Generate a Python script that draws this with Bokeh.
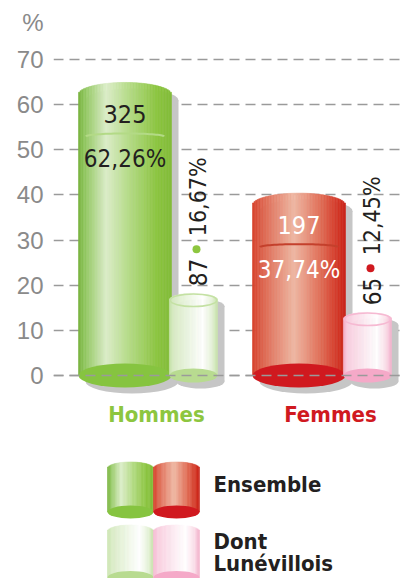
import numpy as np
from bokeh.plotting import figure
from bokeh.models import Range1d, FixedTicker, Span
from bokeh.core.properties import value
from bokeh.embed import file_html
from bokeh.resources import INLINE

# ---------------- data ----------------
categories = ["Hommes", "Femmes"]
ensemble_n = [325, 197]
ensemble_pct = [62.26, 37.74]
lune_n = [87, 65]
lune_pct = [16.67, 12.45]
y_ticks = [0, 10, 20, 30, 40, 50, 60, 70]
y_unit_label = "%"
legend_items = ["Ensemble", "Dont\nLunévillois"]


def fr(v):
    return f"{v:.2f}".replace(".", ",") + "%"


# ---------------- layout / style ----------------
W, H = 409, 578
LEFT = 53
RIGHT = 9
PX_X = 174.0          # px per category unit
PPU = 4.514           # px per percent
Y0_PX = 375           # px of y = 0
FW = W - LEFT - RIGHT
x_start = -(124.5 - LEFT) / PX_X
x_end = x_start + FW / PX_X
y_end = Y0_PX / PPU
y_start = -(H - Y0_PX) / PPU


def px_x(px):
    return px / PX_X


def px_y(px):
    return px / PPU


def X(ref_px):
    return x_start + (ref_px - LEFT) / PX_X


def Y(ref_py):
    return (Y0_PX - ref_py) / PPU


NARROW = "DejaVu Sans Condensed"
GRID = "#9a9a9a"
SHADOW = "#c6c6c6"
DARK = "#231f20"
GREEN = "#8dc63f"
RED = "#d0191f"

big_w = px_x(93)
small_w = px_x(48)
small_off = px_x(68.5)
big_ry = px_y(12)
small_ry = px_y(7)

big_stops = [
    [(0, "#78b23e"), (0.08, "#94c963"), (0.3, "#dcedc9"), (0.55, "#b4db86"), (0.85, "#8cc540"), (1.0, "#82bc39")],
    [(0, "#d6412b"), (0.15, "#e0705a"), (0.45, "#efb8a3"), (0.75, "#e06a53"), (0.95, "#d12f20"), (1.0, "#c8261b")],
]
small_stops = [
    [(0, "#cbe4b0"), (0.1, "#d9ecc6"), (0.7, "#ffffff"), (0.9, "#e4f1d6"), (1.0, "#c6e1a8")],
    [(0, "#f5b8d1"), (0.1, "#f9cfe0"), (0.7, "#ffffff"), (0.9, "#fbdce8"), (1.0, "#f3b1cb")],
]
big_bottom = ["#86c440", "#d0191f"]
small_bottom = ["#b8db90", "#f5a9c8"]
small_rim = ["#c4e1a3", "#f6b9d2"]
arc_color = ["#b3da86", "#c4402c"]
text_color = [DARK, "#ffffff"]
dot_color = [GREEN, RED]
cat_color = [GREEN, RED]


def hex2rgb(h):
    h = h.lstrip("#")
    return np.array([int(h[i:i + 2], 16) for i in (0, 2, 4)], dtype=float)


def interp(stops, t):
    for (t0, c0), (t1, c1) in zip(stops[:-1], stops[1:]):
        if t0 <= t <= t1:
            f = 0 if t1 == t0 else (t - t0) / (t1 - t0)
            c = hex2rgb(c0) * (1 - f) + hex2rgb(c1) * f
            return "#%02x%02x%02x" % tuple(int(round(v)) for v in c)
    return stops[-1][1]


p = figure(width=W, height=H, x_range=Range1d(x_start, x_end), y_range=Range1d(y_start, y_end),
           output_backend="svg", toolbar_location=None, x_axis_location=None,
           min_border_left=LEFT, min_border_right=RIGHT, min_border_top=0, min_border_bottom=0)
p.outline_line_color = None
p.background_fill_color = "white"
p.xgrid.visible = False

unit_tick = round(Y(22), 1)
p.yaxis.ticker = FixedTicker(ticks=y_ticks + [unit_tick])
p.yaxis.major_label_overrides = {unit_tick: y_unit_label}
p.ygrid.ticker = FixedTicker(ticks=y_ticks)
p.ygrid.grid_line_color = GRID
p.ygrid.grid_line_dash = "10 6"
p.ygrid.grid_line_width = 1.5
p.yaxis.axis_line_color = None
p.yaxis.major_tick_line_color = None
p.yaxis.minor_tick_line_color = None
p.yaxis.major_tick_in = 0
p.yaxis.major_tick_out = 0
p.yaxis.major_label_standoff = 10
p.yaxis.major_label_text_font = "Liberation Sans"
p.yaxis.major_label_text_font_size = "24px"
p.yaxis.major_label_text_color = "#8a8a8a"


def shadow(cx, w, top_val, ry, bottom_val=0.0):
    dx, dy = px_x(7), px_y(6)
    p.quad(left=cx - w / 2 + dx, right=cx + w / 2 + dx, bottom=bottom_val - dy, top=top_val - dy,
           fill_color=SHADOW, line_color=None)
    p.ellipse(x=[cx + dx, cx + dx], y=[top_val - dy, bottom_val - dy], width=w, height=2 * ry,
              fill_color=SHADOW, line_color=None)


def cylinder(cx, w, top_val, ry, stops, bottom_color, bottom_val=0.0, n=60, rim=None):
    edges = np.linspace(cx - w / 2, cx + w / 2, n + 1)
    tc = (np.arange(n) + 0.5) / n
    u = 2 * tc - 1
    tops = top_val + ry * np.sqrt(np.clip(1 - u ** 2, 0, 1))
    colors = [interp(stops, t) for t in tc]
    p.quad(left=edges[:-1], right=edges[1:], bottom=bottom_val, top=tops,
           fill_color=colors, line_color=colors, line_width=0.6)
    p.ellipse(x=cx, y=bottom_val, width=w, height=2 * ry, fill_color=bottom_color, line_color=None)
    if rim is not None:
        p.ellipse(x=cx, y=top_val, width=w * 0.97, height=2 * ry * 0.9, fill_color=None,
                  line_color=rim, line_width=1.5)


for i, cat in enumerate(categories):
    cx = i * 1.0
    sx = cx + small_off
    shadow(cx, big_w, ensemble_pct[i], big_ry)
    cylinder(cx, big_w, ensemble_pct[i], big_ry, big_stops[i], big_bottom[i])
    shadow(sx, small_w, lune_pct[i], small_ry)
    cylinder(sx, small_w, lune_pct[i], small_ry, small_stops[i], small_bottom[i], n=40, rim=small_rim[i])

    top_edge = ensemble_pct[i] + big_ry
    th = np.linspace(0, np.pi, 40)
    ax = cx + (big_w / 2 - px_x(7.5)) * np.cos(th)
    ay = top_edge - px_y(54) + px_y(3) * np.sin(th)
    p.line(ax, ay, line_color=arc_color[i], line_width=2)
    p.text(x=[cx], y=[top_edge - px_y(32)], text=[str(ensemble_n[i])], text_align="center",
           text_baseline="middle", text_font=value(NARROW), text_font_size="25px", text_color=text_color[i])
    p.text(x=[cx], y=[top_edge - px_y(77)], text=[fr(ensemble_pct[i])], text_align="center",
           text_baseline="middle", text_font=value(NARROW), text_font_size="24px", text_color=text_color[i])

    start = lune_pct[i] + small_ry + px_y(7)
    tx = sx + px_x(4)
    p.text(x=[tx], y=[start], text=[str(lune_n[i])], angle=np.pi / 2, text_align="left",
           text_baseline="middle", text_font=value(NARROW), text_font_size="24px", text_color=DARK)
    p.scatter(x=[tx - px_x(1)], y=[start + px_y(37)], size=8, fill_color=dot_color[i], line_color=None)
    p.text(x=[tx], y=[start + px_y(50)], text=[fr(lune_pct[i])], angle=np.pi / 2, text_align="left",
           text_baseline="middle", text_font=value(NARROW), text_font_size="23px", text_color=DARK)

    p.text(x=[cx + px_x(31.5)], y=[-px_y(39)], text=[cat], text_align="center", text_baseline="middle",
           text_font=value(NARROW), text_font_style="bold", text_font_size="22px", text_color=cat_color[i])

p.add_layout(Span(location=0, dimension="width", line_color=GRID, line_dash="10 6", line_width=1.5,
                  level="overlay"))

# legend
icon_w = px_x(46)
icon_ry = px_y(6.5)
rows = [(Y(468), Y(511.5), big_stops, big_bottom), (Y(531), Y(577), small_stops, small_bottom)]
for (tv, bv, stops, bottoms) in rows:
    for j, icx in enumerate([X(130), X(176)]):
        cylinder(icx, icon_w, tv, icon_ry, stops[j], bottoms[j], bottom_val=bv, n=36)

legend_y = [[Y(484)], [Y(541), Y(563)]]
for item, ys in zip(legend_items, legend_y):
    for line, yy in zip(item.split("\n"), ys):
        p.text(x=[X(213)], y=[yy], text=[line], text_align="left", text_baseline="middle",
               text_font=value(NARROW), text_font_style="bold", text_font_size="22px", text_color=DARK)

open("out.html", "w").write(file_html(p, INLINE))
